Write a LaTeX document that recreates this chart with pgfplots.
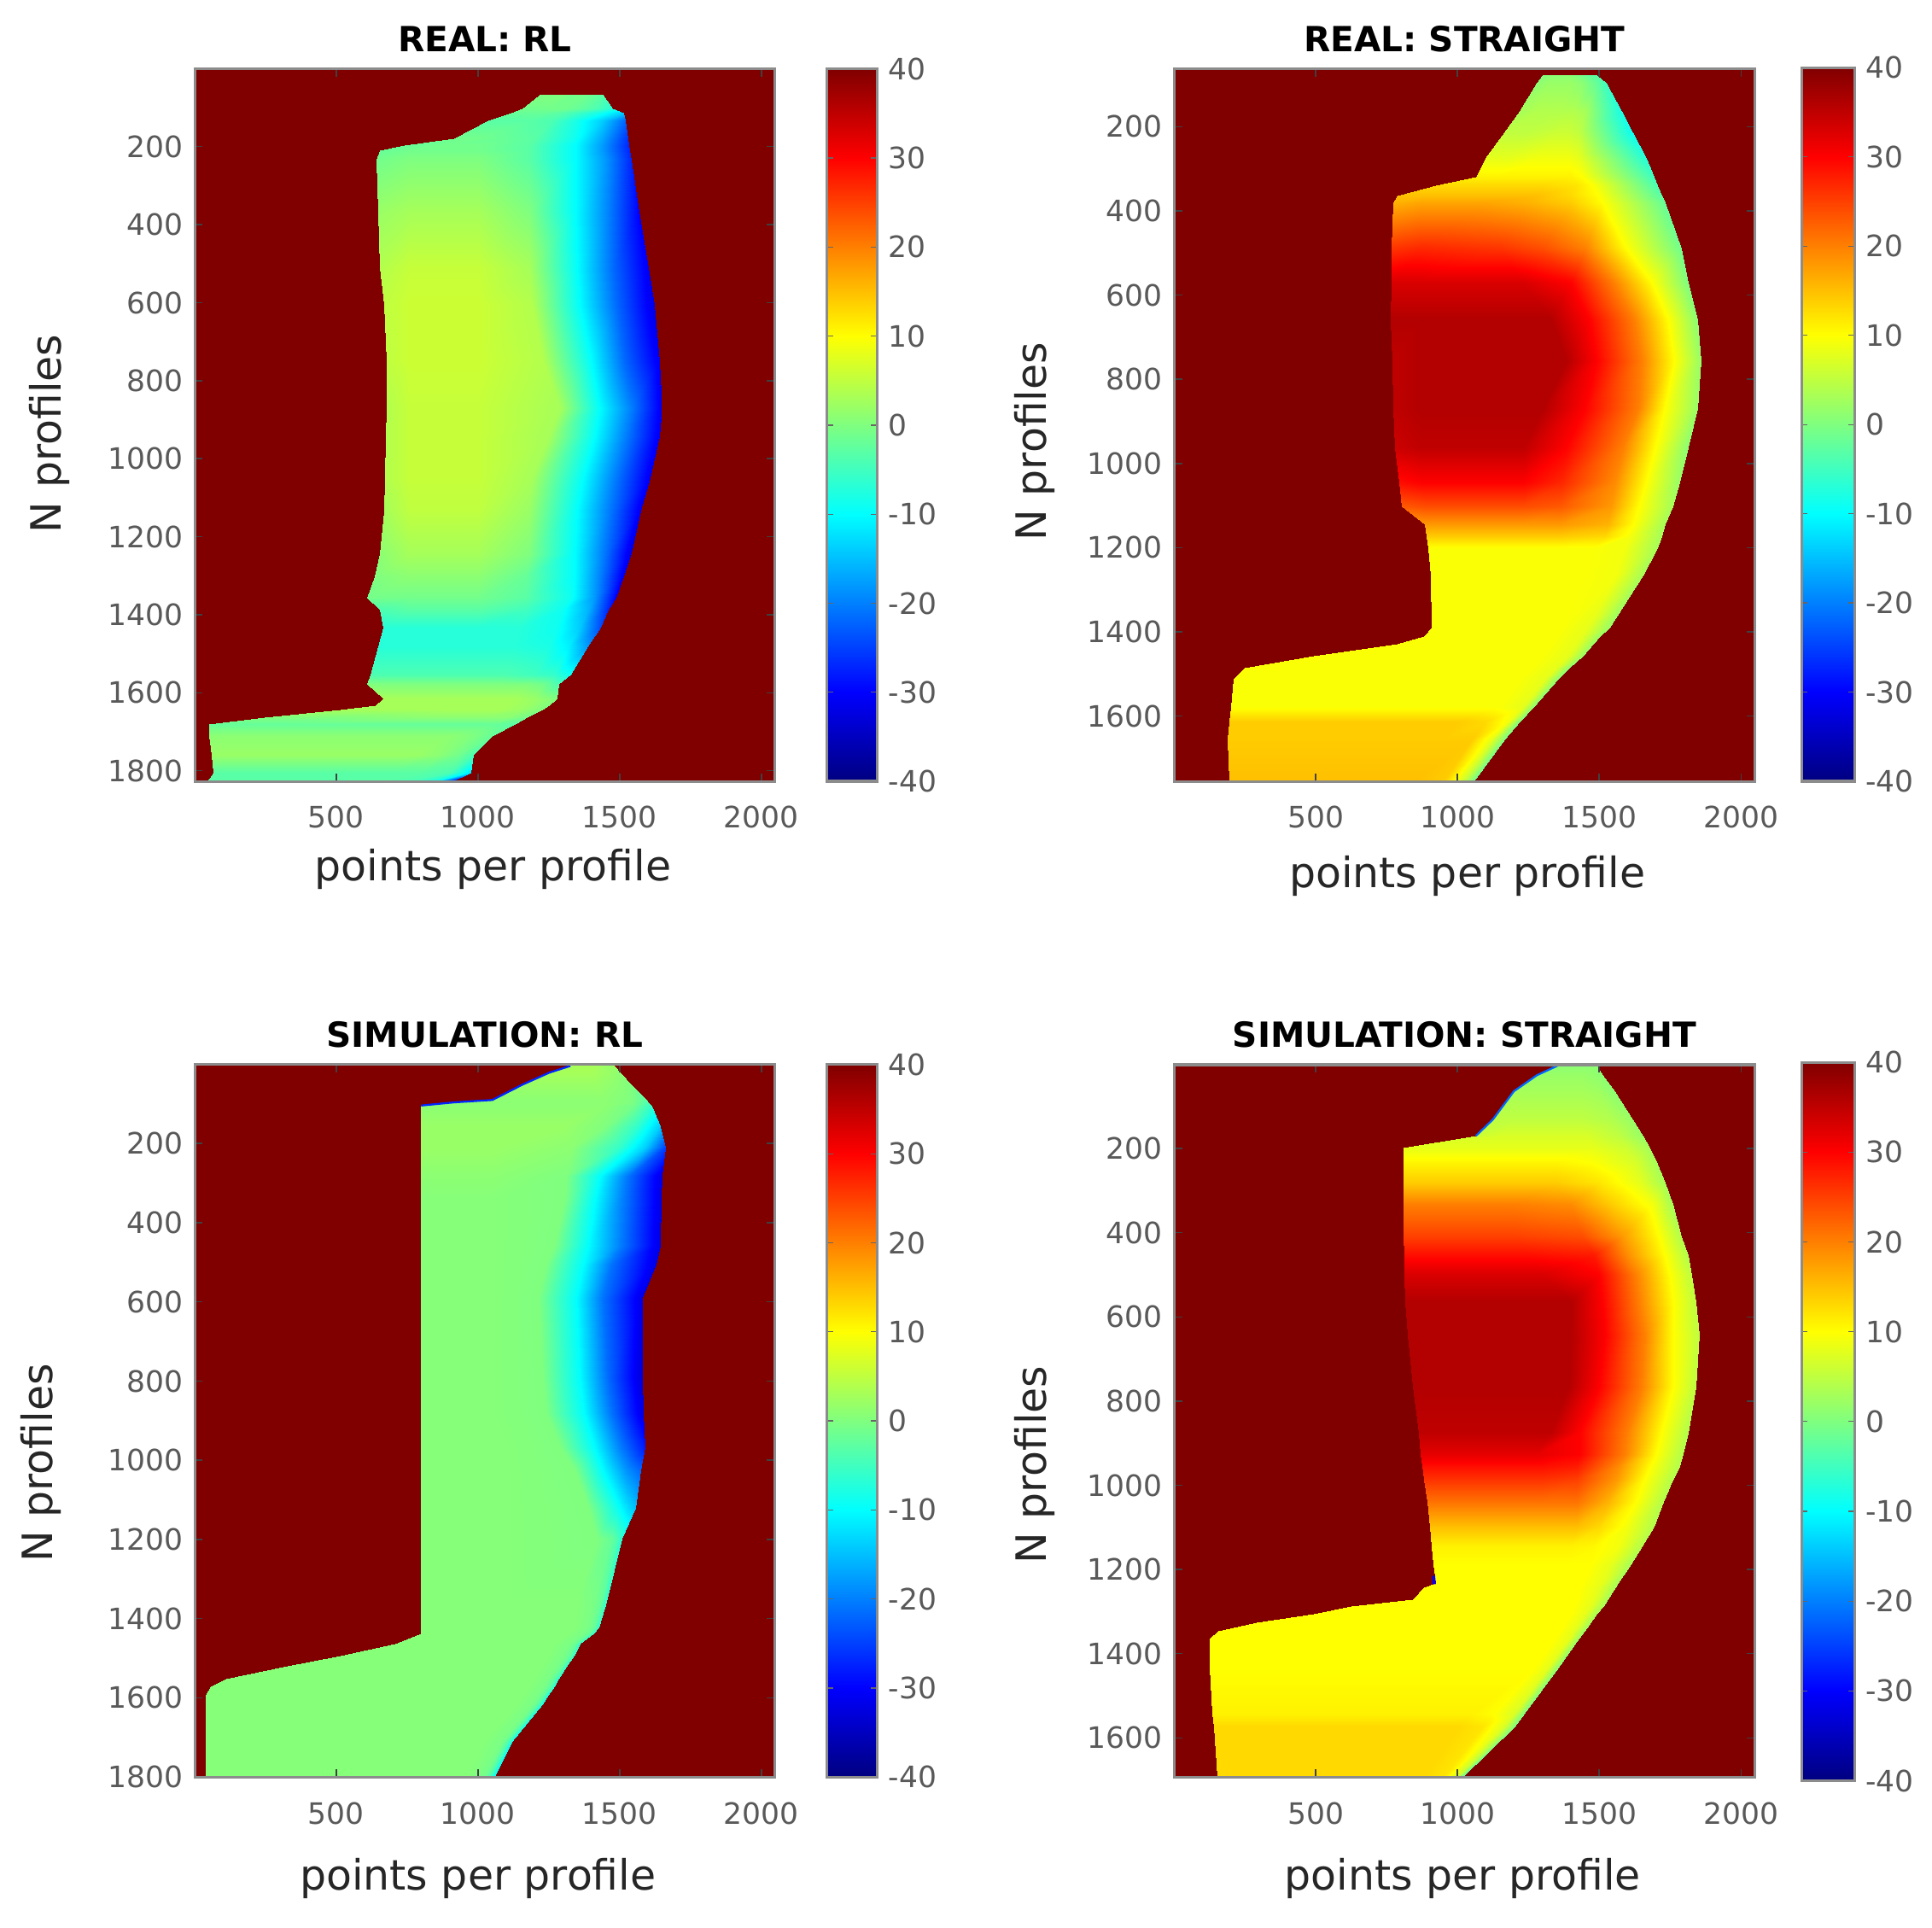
\documentclass[border=0pt]{standalone}
\usepackage{fontspec}
\setmainfont{DejaVu Sans}
\usepackage{pgfplots}
\pgfplotsset{compat=1.18}

\definecolor{tickgray}{gray}{0.35}
\definecolor{boxgray}{gray}{0.55}

\pgfplotsset{
  common/.style={
    scale only axis, anchor=south west,
    colormap/jet, point meta min=-40, point meta max=40,
    axis on top,
    scaled ticks=false,
    /pgf/number format/assume math mode=true,
    /pgf/number format/1000 sep={},
    tick label style={font=\fontsize{13.6}{16}\selectfont, text=tickgray},
    axis line style={boxgray, line width=1.2pt},
    tick align=inside,
  },
  panel/.style={
    common, width=9.42cm, height=11.56cm,
    y dir=reverse, xmin=1, xmax=2048,
    xtick={500,1000,1500,2000},
    xticklabel style={yshift=-8pt},
    yticklabel style={xshift=-2pt},
    tick style={black!75, line width=0.6pt},
    major tick length=0.13cm,
    title style={font=\fontsize{16}{19}\bfseries\selectfont, at={(axis description cs:0.5,1.024)}, anchor=center},
    label style={font=\fontsize{19.3}{23}\selectfont, text=black!85},
  },
  cbar/.style={
    common, xmin=0, xmax=1, ymin=-40, ymax=40, xtick=\empty,
    ytick={-40,-30,-20,-10,0,10,20,30,40},
    yticklabels={-40,-30,-20,-10,0,10,20,30,40},
    yticklabel pos=right,
    yticklabel style={xshift=1.7pt},
    tick style={black!60, line width=0.5pt},
    major tick length=0.1cm,
  },
  field/.style={surf, shader=interp, mesh/cols=#1, point meta=explicit},
}
\pgfplotstableread[row sep=\\]{
x v\\ 0 -40\\ 1 -40\\ 0 40\\ 1 40\\
}\barcolors

\begin{document}
\begin{tikzpicture}
\path[use as bounding box] (0,0) rectangle (31.36,31.28);

% REAL: RL
\begin{axis}[panel, at={(3.16cm,18.6cm)},
  ymin=1, ymax=1827, ytick={200,400,600,800,1000,1200,1400,1600,1800},
  title={REAL: RL},
  xlabel={points per profile}, ylabel={N profiles},
  xlabel style={at={(axis description cs:0.514,-0.123)}, anchor=center},
  ylabel style={at={(axis description cs:-0.25,0.488)}, anchor=center},
]
\addplot[field=2] table[row sep=\\, header=false, x index=0, y index=1, meta index=2] {
1 1 40\\ 2048 1 40\\ 1 1827 40\\ 2048 1827 40\\
};
\addplot[field=7] table[row sep=\\, header=false, x index=0, y index=1, meta index=2] {
1218 68 0\\ 1250 68 0\\ 1290 68 0\\ 1330 68 -1\\ 1370 68 -1\\ 1410 68 -2\\ 1439 68 -3\\
1158 102 -1\\ 1200 102 -1\\ 1250 102 -1\\ 1300 102 -1\\ 1350 102 -2\\ 1420 102 -4\\ 1473 102 -7\\
1118 114 -2\\ 1170 114 -2\\ 1230 114 -2\\ 1290 114 -3\\ 1350 114 -5\\ 1440 114 -9\\ 1513 114 -14\\
1037 132 -3\\ 1100 132 -3\\ 1180 132 -3\\ 1260 132 -4\\ 1345 132 -8\\ 1440 132 -14\\ 1520 132 -22\\
917 178 -1\\ 1000 178 -1\\ 1100 178 -2\\ 1200 178 -3\\ 1345 178 -9\\ 1440 178 -17\\ 1527 178 -26\\
742 196 -2\\ 860 196 -1\\ 1000 196 -1\\ 1180 196 -3\\ 1345 196 -10\\ 1440 196 -18\\ 1530 196 -27\\
655 210 -2\\ 760 210 -1\\ 1000 210 -1\\ 1180 210 -3\\ 1345 210 -10\\ 1440 210 -18\\ 1533 210 -27\\
642 234 -1\\ 760 234 0\\ 1000 234 0\\ 1180 234 -3\\ 1345 234 -10\\ 1450 234 -18\\ 1540 234 -27\\
649 366 2\\ 760 366 3\\ 1000 366 3\\ 1180 366 0\\ 1345 366 -10\\ 1460 366 -20\\ 1566 366 -30\\
655 510 4\\ 760 510 5.5\\ 1000 510 5.5\\ 1180 510 3\\ 1350 510 -10\\ 1480 510 -22\\ 1600 510 -31\\
669 606 5\\ 760 606 6\\ 1000 606 6\\ 1190 606 4\\ 1360 606 -10\\ 1490 606 -22\\ 1620 606 -32\\
678 750 5\\ 760 750 6\\ 1000 750 6\\ 1230 750 4\\ 1390 750 -9\\ 1520 750 -22\\ 1640 750 -31\\
678 870 4\\ 760 870 5.5\\ 1000 870 5.5\\ 1290 870 3\\ 1420 870 -9\\ 1540 870 -20\\ 1647 870 -31\\
675 942 4\\ 760 942 5.5\\ 1000 942 5.5\\ 1250 942 3\\ 1400 942 -9\\ 1530 942 -21\\ 1640 942 -31\\
673 1050 4\\ 760 1050 5.5\\ 1000 1050 5.5\\ 1190 1050 3\\ 1370 1050 -10\\ 1490 1050 -21\\ 1607 1050 -31\\
670 1134 3\\ 760 1134 5\\ 1000 1134 5\\ 1180 1134 2\\ 1350 1134 -10\\ 1470 1134 -21\\ 1573 1134 -31\\
655 1242 1\\ 760 1242 3\\ 1000 1242 3\\ 1180 1242 0\\ 1340 1242 -10\\ 1450 1242 -21\\ 1540 1242 -32\\
635 1302 0\\ 760 1302 1\\ 1000 1302 1\\ 1170 1302 -2\\ 1340 1302 -10\\ 1430 1302 -20\\ 1513 1302 -31\\
608 1356 -1\\ 760 1356 -1\\ 1000 1356 -1\\ 1170 1356 -3\\ 1330 1356 -9\\ 1410 1356 -18\\ 1486 1356 -30\\
655 1386 -4\\ 760 1386 -3\\ 1000 1386 -3\\ 1170 1386 -5\\ 1300 1386 -9\\ 1390 1386 -16\\ 1459 1386 -27\\
665 1434 -7\\ 760 1434 -7\\ 1000 1434 -7\\ 1150 1434 -7\\ 1280 1434 -9\\ 1360 1434 -14\\ 1432 1434 -24\\
649 1482 -7\\ 760 1482 -7\\ 1000 1482 -7\\ 1130 1482 -7\\ 1250 1482 -8\\ 1320 1482 -11\\ 1386 1482 -18\\
622 1554 -4\\ 760 1554 -4\\ 1000 1554 -4\\ 1100 1554 -4\\ 1200 1554 -5\\ 1270 1554 -6\\ 1325 1554 -9\\
608 1578 0\\ 760 1578 0\\ 1000 1578 0\\ 1090 1578 0\\ 1170 1578 0\\ 1230 1578 -1\\ 1285 1578 -4\\
665 1614 3\\ 760 1614 3\\ 950 1614 3\\ 1050 1614 3\\ 1130 1614 3\\ 1200 1614 2\\ 1278 1614 0\\
640 1632 3\\ 760 1632 3\\ 950 1632 3\\ 1040 1632 3\\ 1110 1632 3\\ 1180 1632 2\\ 1252 1632 0\\
515 1644 3\\ 700 1644 3\\ 900 1644 3\\ 1000 1644 3\\ 1080 1644 3\\ 1150 1644 2\\ 1225 1644 0\\
247 1662 0\\ 500 1662 0\\ 800 1662 1\\ 950 1662 1\\ 1030 1662 1\\ 1100 1662 1\\ 1171 1662 -1\\
52 1680 -2\\ 300 1680 -2\\ 700 1680 -2\\ 900 1680 -2\\ 980 1680 -2\\ 1060 1680 -2\\ 1131 1680 -3\\
52 1710 1\\ 300 1710 1\\ 600 1710 1\\ 800 1710 1\\ 900 1710 1\\ 980 1710 0\\ 1050 1710 -2\\
62 1758 2\\ 300 1758 2\\ 600 1758 2\\ 780 1758 2\\ 860 1758 1\\ 930 1758 -1\\ 984 1758 -4\\
66 1806 -3\\ 300 1806 -3\\ 500 1806 -3\\ 700 1806 -3\\ 800 1806 -3\\ 900 1806 -4\\ 973 1806 -12\\
46 1827 -3\\ 300 1827 -3\\ 500 1827 -3\\ 650 1827 -3\\ 750 1827 -4\\ 840 1827 -8\\ 910 1827 -30\\
};
\end{axis}
\begin{axis}[cbar, at={(13.42cm,18.6cm)}, width=0.82cm, height=11.56cm]
\addplot[field=2] table[x=x, y=v, meta=v] {\barcolors};
\end{axis}

% REAL: STRAIGHT
\begin{axis}[panel, at={(19.06cm,18.6cm)},
  ymin=63, ymax=1755, ytick={200,400,600,800,1000,1200,1400,1600},
  title={REAL: STRAIGHT},
  xlabel={points per profile}, ylabel={N profiles},
  xlabel style={at={(axis description cs:0.505,-0.133)}, anchor=center},
  ylabel style={at={(axis description cs:-0.24,0.477)}, anchor=center},
]
\addplot[field=2] table[row sep=\\, header=false, x index=0, y index=1, meta index=2] {
1 63 40\\ 2048 63 40\\ 1 1755 40\\ 2048 1755 40\\
};
\addplot[field=7] table[row sep=\\, header=false, x index=0, y index=1, meta index=2] {
1300 77 0\\ 1330 77 1\\ 1360 77 1\\ 1390 77 1\\ 1420 77 0\\ 1460 77 -2\\ 1489 77 -3\\
1280 96 1\\ 1320 96 2\\ 1360 96 2\\ 1400 96 2\\ 1440 96 1\\ 1490 96 -2\\ 1522 96 -5\\
1219 163 3\\ 1280 163 4\\ 1330 163 4\\ 1370 163 4\\ 1410 163 4\\ 1450 163 3\\ 1579 163 -8\\
1166 213 5\\ 1240 213 5\\ 1300 213 5.5\\ 1350 213 6\\ 1390 213 6\\ 1430 213 5\\ 1616 213 -9\\
1098 274 8\\ 1180 274 8\\ 1280 274 9\\ 1340 274 9\\ 1390 274 9\\ 1430 274 8\\ 1664 274 -7\\
1065 318 11\\ 1150 318 11\\ 1250 318 11\\ 1340 318 11\\ 1400 318 11\\ 1440 318 10\\ 1691 318 -5\\
923 340 13\\ 1000 340 13\\ 1150 340 13\\ 1300 340 13\\ 1420 340 12\\ 1475 340 10\\ 1704 340 -4\\
789 363 15\\ 880 363 15\\ 1100 363 15\\ 1280 363 15\\ 1400 363 13\\ 1495 363 10\\ 1720 363 -3\\
773 379 16\\ 870 379 17\\ 1100 379 17\\ 1250 379 16\\ 1400 379 14\\ 1510 379 10\\ 1731 379 -2\\
769 490 26\\ 870 490 27\\ 1150 490 26\\ 1300 490 24\\ 1450 490 20\\ 1595 490 10\\ 1788 490 -1\\
767 570 33\\ 870 570 33\\ 1230 570 33\\ 1400 570 30\\ 1550 570 20\\ 1685 570 10\\ 1812 570 0\\
765 657 36\\ 870 657 36\\ 1327 657 36\\ 1462 657 30\\ 1623 657 20\\ 1744 657 10\\ 1845 657 1\\
770 757 35\\ 870 757 36\\ 1381 757 36\\ 1489 757 30\\ 1650 757 20\\ 1765 757 10\\ 1859 757 2\\
775 868 35\\ 870 868 36\\ 1300 868 36\\ 1448 868 30\\ 1637 868 20\\ 1731 868 10\\ 1845 868 2\\
780 962 34\\ 870 962 35\\ 1233 962 35\\ 1381 962 30\\ 1583 962 20\\ 1697 962 10\\ 1812 962 1\\
795 1045 29\\ 870 1045 30\\ 1233 1045 30\\ 1367 1045 27\\ 1556 1045 19\\ 1664 1045 10\\ 1782 1045 2\\
805 1101 23\\ 890 1101 24\\ 1233 1101 24\\ 1367 1101 23\\ 1540 1101 18\\ 1640 1101 10\\ 1758 1101 3\\
886 1145 18\\ 950 1145 18\\ 1233 1145 18\\ 1367 1145 18\\ 1530 1145 16\\ 1620 1145 10\\ 1731 1145 3\\
890 1173 14\\ 960 1173 14\\ 1233 1173 14\\ 1367 1173 14\\ 1520 1173 13\\ 1610 1173 9\\ 1718 1173 3\\
896 1201 9.6\\ 970 1201 9.6\\ 1233 1201 9.6\\ 1367 1201 9.6\\ 1480 1201 9.6\\ 1590 1201 9\\ 1704 1201 3\\
907 1267 9.6\\ 1000 1267 9.6\\ 1200 1267 9.6\\ 1350 1267 9.6\\ 1450 1267 9.6\\ 1560 1267 9\\ 1653 1267 3\\
910 1389 9.6\\ 1000 1389 9.6\\ 1150 1389 9.6\\ 1280 1389 9.6\\ 1370 1389 9.6\\ 1460 1389 8\\ 1536 1389 2\\
883 1411 9.6\\ 980 1411 9.6\\ 1130 1411 9.6\\ 1270 1411 9.6\\ 1350 1411 9.6\\ 1440 1411 8\\ 1502 1411 2\\
789 1428 9.6\\ 900 1428 9.6\\ 1100 1428 9.6\\ 1250 1428 9.6\\ 1330 1428 9.6\\ 1420 1428 8\\ 1479 1428 2\\
493 1456 9.6\\ 700 1456 9.6\\ 1000 1456 9.6\\ 1200 1456 9.6\\ 1300 1456 9.6\\ 1390 1456 8\\ 1442 1456 2\\
250 1486 9.6\\ 500 1486 9.6\\ 900 1486 9.6\\ 1150 1486 9.6\\ 1260 1486 9.6\\ 1350 1486 8\\ 1395 1486 1\\
210 1511 9.6\\ 500 1511 9.6\\ 900 1511 9.6\\ 1100 1511 9.6\\ 1220 1511 9.6\\ 1310 1511 8\\ 1354 1511 1\\
200 1578 9.6\\ 500 1578 9.6\\ 800 1578 9.6\\ 1050 1578 9.6\\ 1150 1578 9.6\\ 1230 1578 8\\ 1267 1578 1\\
195 1612 14\\ 500 1612 14\\ 800 1612 14\\ 1000 1612 14\\ 1100 1612 13\\ 1180 1612 9\\ 1220 1612 0\\
190 1656 14\\ 500 1656 14\\ 750 1656 14\\ 950 1656 14\\ 1050 1656 14\\ 1120 1656 8\\ 1166 1656 0\\
194 1755 15\\ 450 1755 15\\ 700 1755 15\\ 850 1755 15\\ 950 1755 14\\ 1020 1755 6\\ 1058 1755 -1\\
};
\end{axis}
\begin{axis}[cbar, at={(29.24cm,18.6cm)}, width=0.86cm, height=11.58cm]
\addplot[field=2] table[x=x, y=v, meta=v] {\barcolors};
\end{axis}

% SIMULATION: RL
\begin{axis}[panel, at={(3.16cm,2.44cm)},
  ymin=1, ymax=1800, ytick={200,400,600,800,1000,1200,1400,1600,1800},
  title={SIMULATION: RL},
  xlabel={points per profile}, ylabel={N profiles},
  xlabel style={at={(axis description cs:0.488,-0.142)}, anchor=center},
  ylabel style={at={(axis description cs:-0.265,0.441)}, anchor=center},
]
\addplot[field=2] table[row sep=\\, header=false, x index=0, y index=1, meta index=2] {
1 1 40\\ 2048 1 40\\ 1 1800 40\\ 2048 1800 40\\
};
\addplot[field=6] table[row sep=\\, header=false, x index=0, y index=1, meta index=2] {
1326 4 3\\ 1355 4 3\\ 1385 4 3\\ 1420 4 3\\ 1455 4 2\\ 1480 4 2\\
1252 21 3\\ 1300 21 3\\ 1350 21 3\\ 1400 21 3\\ 1460 21 2\\ 1500 21 1\\
1158 51 2\\ 1250 51 2\\ 1330 51 2\\ 1420 51 2\\ 1490 51 1\\ 1540 51 0\\
1051 90 1\\ 1150 90 1\\ 1300 90 1\\ 1450 90 1\\ 1540 90 0\\ 1594 90 -3\\
917 95 1\\ 1100 95 1\\ 1300 95 1\\ 1450 95 1\\ 1540 95 0\\ 1600 95 -4\\
800 104 1\\ 1000 104 1\\ 1300 104 1\\ 1450 104 1\\ 1550 104 -1\\ 1612 104 -6\\
800 157 2\\ 1050 157 2\\ 1300 157 2\\ 1450 157 0\\ 1560 157 -6\\ 1641 157 -14\\
800 210 2\\ 1050 210 2\\ 1330 210 1\\ 1500 210 -6\\ 1590 210 -14\\ 1661 210 -25\\
800 281 1\\ 1050 281 1\\ 1310 281 0\\ 1430 281 -10\\ 1530 281 -21\\ 1647 281 -32\\
800 340 0.5\\ 1050 340 0.5\\ 1305 340 0\\ 1413 340 -10\\ 1510 340 -20\\ 1645 340 -32\\
800 459 0.5\\ 1050 459 0.5\\ 1270 459 0\\ 1390 459 -10\\ 1500 459 -20\\ 1641 459 -32\\
800 506 0.5\\ 1050 506 0.5\\ 1240 506 0\\ 1370 506 -10\\ 1470 506 -21\\ 1627 506 -32\\
800 589 0.5\\ 1050 589 0.5\\ 1212 589 0\\ 1346 589 -10\\ 1440 589 -21\\ 1580 589 -32\\
800 790 0.5\\ 1050 790 0.5\\ 1225 790 0\\ 1360 790 -10\\ 1460 790 -22\\ 1580 790 -33\\
800 880 0.5\\ 1050 880 0.5\\ 1240 880 0\\ 1375 880 -10\\ 1470 880 -21\\ 1583 880 -32\\
800 967 0.5\\ 1100 967 0.5\\ 1290 967 0\\ 1410 967 -10\\ 1500 967 -20\\ 1587 967 -28\\
800 1026 0.5\\ 1100 1026 0.5\\ 1340 1026 0\\ 1440 1026 -10\\ 1520 1026 -18\\ 1574 1026 -22\\
800 1120 0.5\\ 1100 1120 0.5\\ 1390 1120 0\\ 1490 1120 -9\\ 1530 1120 -13\\ 1554 1120 -15\\
800 1199 0.5\\ 1100 1199 0.5\\ 1420 1199 0\\ 1470 1199 -2\\ 1490 1199 -4\\ 1507 1199 -7\\
800 1357 0.5\\ 1100 1357 0.5\\ 1350 1357 0.5\\ 1410 1357 -0.5\\ 1435 1357 -2\\ 1453 1357 -6\\
800 1422 0.5\\ 1100 1422 0.5\\ 1340 1422 0.5\\ 1390 1422 -0.5\\ 1410 1422 -2\\ 1426 1422 -6\\
800 1437 0.5\\ 1100 1437 0.5\\ 1320 1437 0.5\\ 1370 1437 -0.5\\ 1392 1437 -2\\ 1406 1437 -6\\
709 1463 0.5\\ 1000 1463 0.5\\ 1270 1463 0.5\\ 1325 1463 -0.5\\ 1345 1463 -2\\ 1359 1463 -6\\
515 1493 0.5\\ 900 1493 0.5\\ 1248 1493 0.5\\ 1303 1493 -0.5\\ 1323 1493 -2\\ 1337 1493 -6\\
314 1522 0.5\\ 800 1522 0.5\\ 1222 1522 0.5\\ 1277 1522 -0.5\\ 1297 1522 -2\\ 1311 1522 -6\\
113 1552 0.5\\ 700 1552 0.5\\ 1195 1552 0.5\\ 1252 1552 -0.5\\ 1272 1552 -3\\ 1284 1552 -7\\
59 1570 0.5\\ 600 1570 0.5\\ 1180 1570 0.5\\ 1236 1570 -0.5\\ 1256 1570 -3\\ 1268 1570 -7\\
41 1593 0.5\\ 600 1593 0.5\\ 1160 1593 0.5\\ 1215 1593 -0.5\\ 1235 1593 -3\\ 1247 1593 -8\\
41 1617 0.5\\ 600 1617 0.5\\ 1135 1617 0.5\\ 1192 1617 -0.5\\ 1212 1617 -3\\ 1225 1617 -8\\
41 1711 0.5\\ 500 1711 0.5\\ 1020 1711 0.5\\ 1085 1711 -0.5\\ 1105 1711 -4\\ 1118 1711 -9\\
41 1800 0.5\\ 500 1800 0.5\\ 960 1800 0.5\\ 1025 1800 -1\\ 1045 1800 -5\\ 1058 1800 -10\\
};
\addplot[no marks, blue!85!cyan, line width=0.9pt] coordinates {
(800,104) (917,96) (1051,90) (1158,51) (1252,21) (1326,4)
};
\end{axis}
\begin{axis}[cbar, at={(13.42cm,2.44cm)}, width=0.82cm, height=11.56cm]
\addplot[field=2] table[x=x, y=v, meta=v] {\barcolors};
\end{axis}

% SIMULATION: STRAIGHT
\begin{axis}[panel, at={(19.06cm,2.44cm)},
  ymin=1, ymax=1693, ytick={200,400,600,800,1000,1200,1400,1600},
  title={SIMULATION: STRAIGHT},
  xlabel={points per profile}, ylabel={N profiles},
  xlabel style={at={(axis description cs:0.497,-0.142)}, anchor=center},
  ylabel style={at={(axis description cs:-0.24,0.438)}, anchor=center},
]
\addplot[field=2] table[row sep=\\, header=false, x index=0, y index=1, meta index=2] {
1 1 40\\ 2048 1 40\\ 1 1693 40\\ 2048 1693 40\\
};
\addplot[field=7] table[row sep=\\, header=false, x index=0, y index=1, meta index=2] {
1354 3 1\\ 1380 3 1\\ 1410 3 1\\ 1440 3 1\\ 1460 3 1\\ 1475 3 1\\ 1489 3 1\\
1280 26 2\\ 1320 26 2\\ 1360 26 2\\ 1400 26 2\\ 1440 26 2\\ 1480 26 1.5\\ 1511 26 1\\
1199 64 3\\ 1260 64 3\\ 1320 64 3\\ 1380 64 3\\ 1440 64 3\\ 1500 64 2.5\\ 1553 64 1\\
1125 131 5\\ 1200 131 5\\ 1280 131 5\\ 1360 131 5\\ 1440 131 5\\ 1540 131 4\\ 1617 131 2\\
1065 170 6\\ 1150 170 7\\ 1250 170 7\\ 1350 170 7\\ 1450 170 7\\ 1570 170 5\\ 1653 170 2\\
809 198 8\\ 1000 198 8\\ 1200 198 8\\ 1350 198 8\\ 1480 198 8\\ 1600 198 6\\ 1677 198 3\\
809 237 11\\ 1000 237 11\\ 1200 237 11\\ 1350 237 11\\ 1480 237 10\\ 1630 237 7\\ 1704 237 3\\
809 280 14\\ 1000 280 14\\ 1200 280 14\\ 1350 280 14\\ 1500 280 12\\ 1640 280 8\\ 1730 280 3\\
809 331 20\\ 1000 331 20\\ 1200 331 20\\ 1400 331 19\\ 1540 331 14\\ 1690 331 9\\ 1758 331 3\\
810 409 25\\ 1000 409 25\\ 1200 409 25\\ 1440 409 24\\ 1580 409 18\\ 1710 409 10\\ 1789 409 4\\
812 453 29\\ 1000 453 29\\ 1250 453 29\\ 1480 453 28\\ 1600 453 19\\ 1730 453 10\\ 1812 453 4\\
813 500 33\\ 1000 500 33\\ 1300 500 33\\ 1500 500 30\\ 1630 500 20\\ 1750 500 10\\ 1825 500 5\\
816 565 36\\ 1000 565 36\\ 1400 565 36\\ 1510 565 30\\ 1640 565 20\\ 1760 565 10\\ 1841 565 5\\
826 642 36\\ 1000 642 36\\ 1400 642 36\\ 1520 642 30\\ 1660 642 20\\ 1760 642 10\\ 1852 642 5\\
843 765 36\\ 1000 765 36\\ 1390 765 36\\ 1500 765 30\\ 1650 765 20\\ 1760 765 10\\ 1839 765 5\\
863 876 35\\ 1000 876 35\\ 1330 876 35\\ 1430 876 30\\ 1600 876 20\\ 1720 876 10\\ 1812 876 4\\
870 925 32\\ 1000 925 32\\ 1280 925 32\\ 1430 925 30\\ 1590 925 20\\ 1700 925 10\\ 1795 925 4\\
876 954 29\\ 1000 954 29\\ 1300 954 29\\ 1420 954 28\\ 1570 954 19\\ 1680 954 10\\ 1782 954 4\\
883 987 26\\ 1000 987 26\\ 1300 987 26\\ 1420 987 25\\ 1560 987 18\\ 1660 987 10\\ 1758 987 4\\
893 1040 21\\ 1000 1040 21\\ 1300 1040 21\\ 1420 1040 21\\ 1530 1040 16\\ 1630 1040 10\\ 1725 1040 4\\
903 1098 15\\ 1000 1098 15\\ 1300 1098 15\\ 1420 1098 15\\ 1500 1098 13\\ 1600 1098 9\\ 1691 1098 4\\
908 1145 11\\ 1000 1145 11\\ 1250 1145 11\\ 1400 1145 11\\ 1480 1145 10.5\\ 1570 1145 9\\ 1650 1145 4\\
914 1187 10\\ 1000 1187 10\\ 1250 1187 10\\ 1400 1187 10\\ 1470 1187 10\\ 1540 1187 8\\ 1610 1187 3\\
923 1232 10\\ 1000 1232 10\\ 1200 1232 10\\ 1370 1232 10\\ 1440 1232 10\\ 1510 1232 8\\ 1565 1232 3\\
883 1243 10\\ 1000 1243 10\\ 1200 1243 10\\ 1370 1243 10\\ 1430 1243 10\\ 1500 1243 8\\ 1556 1243 3\\
843 1271 10\\ 1000 1271 10\\ 1200 1271 10\\ 1350 1271 10\\ 1420 1271 10\\ 1480 1271 8\\ 1529 1271 3\\
627 1287 10\\ 900 1287 10\\ 1200 1287 10\\ 1340 1287 10\\ 1410 1287 10\\ 1470 1287 8\\ 1513 1287 3\\
493 1306 10\\ 800 1306 10\\ 1150 1306 10\\ 1330 1306 10\\ 1400 1306 10\\ 1450 1306 8\\ 1489 1306 3\\
291 1326 10\\ 700 1326 10\\ 1100 1326 10\\ 1300 1326 10\\ 1380 1326 10\\ 1430 1326 8\\ 1469 1326 3\\
156 1345 10\\ 600 1345 10\\ 1050 1345 10\\ 1280 1345 10\\ 1360 1345 10\\ 1410 1345 8\\ 1448 1345 2\\
127 1365 10\\ 600 1365 10\\ 1000 1365 10\\ 1250 1365 10\\ 1340 1365 10\\ 1395 1365 8\\ 1428 1365 2\\
125 1432 10\\ 550 1432 10\\ 950 1432 10\\ 1180 1432 10\\ 1270 1432 10\\ 1320 1432 8\\ 1354 1432 1\\
136 1543 11\\ 500 1543 11\\ 850 1543 11\\ 1050 1543 11\\ 1130 1543 10\\ 1200 1543 7\\ 1233 1543 0\\
140 1572 13\\ 500 1572 13\\ 800 1572 13\\ 1000 1572 13\\ 1090 1572 12\\ 1165 1572 7\\ 1200 1572 0\\
153 1693 13\\ 450 1693 13\\ 700 1693 13\\ 880 1693 13\\ 950 1693 12\\ 1000 1693 6\\ 1018 1693 -2\\
};
\addplot[no marks, blue!60!cyan, line width=0.9pt] coordinates {
(1065,170) (1125,131) (1199,64) (1280,26) (1354,3)
};
\addplot[no marks, blue, line width=1.4pt] coordinates {
(916,1215) (918,1235)
};
\end{axis}
\begin{axis}[cbar, at={(29.24cm,2.38cm)}, width=0.86cm, height=11.66cm]
\addplot[field=2] table[x=x, y=v, meta=v] {\barcolors};
\end{axis}
\end{tikzpicture}
\end{document}
